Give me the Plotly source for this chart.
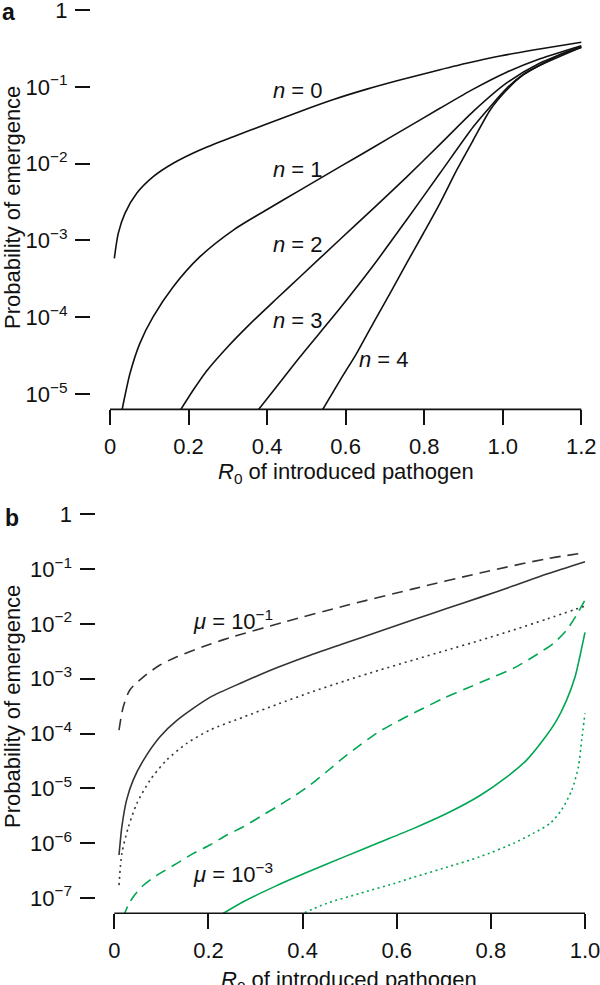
import plotly.graph_objects as go

# ---------------- data: panel a (number of mutations n) ----------------
a_n0_r0 = [0.011, 0.021, 0.038, 0.068, 0.110, 0.161, 0.229, 0.314, 0.399, 0.484, 0.569, 0.654, 0.738, 0.823, 0.908, 0.993, 1.078, 1.2]
a_n0_p = [5.85e-4, 1.236e-3, 2.254e-3, 4.10e-3, 6.75e-3, 1.009e-2, 1.503e-2, 2.239e-2, 3.273e-2, 4.786e-2, 6.839e-2, 9.33e-2, 0.1227, 0.1585, 0.2023, 0.2512, 0.3013, 0.380]

a_n1_r0 = [0.027, 0.051, 0.076, 0.110, 0.161, 0.229, 0.314, 0.399, 0.484, 0.586, 0.670, 0.755, 0.840, 0.925, 1.010, 1.095, 1.2]
a_n1_p = [5.01e-6, 1.862e-5, 4.571e-5, 1.016e-4, 2.495e-4, 6.138e-4, 1.365e-3, 2.512e-3, 4.519e-3, 9.12e-3, 1.622e-2, 2.917e-2, 5.248e-2, 9.333e-2, 0.1549, 0.2317, 0.3428]

a_n2_r0 = [0.168, 0.212, 0.246, 0.297, 0.356, 0.424, 0.484, 0.586, 0.670, 0.755, 0.840, 0.925, 1.010, 1.095, 1.2]
a_n2_p = [5.01e-6, 1.127e-5, 1.995e-5, 3.981e-5, 8.128e-5, 1.738e-4, 3.365e-4, 1.035e-3, 2.600e-3, 6.683e-3, 1.778e-2, 4.786e-2, 0.1122, 0.2042, 0.3327]

a_n3_r0 = [0.363, 0.424, 0.484, 0.586, 0.670, 0.755, 0.840, 0.925, 0.968, 1.010, 1.052, 1.095, 1.2]
a_n3_p = [5.01e-6, 1.245e-5, 3.062e-5, 1.318e-4, 4.677e-4, 1.845e-3, 7.482e-3, 3.020e-2, 5.508e-2, 9.55e-2, 0.1445, 0.1905, 0.3266]

a_n4_r0 = [0.530, 0.586, 0.628, 0.670, 0.713, 0.755, 0.798, 0.840, 0.883, 0.925, 0.968, 1.010, 1.052, 1.095, 1.146, 1.2]
a_n4_p = [5.01e-6, 1.52e-5, 3.39e-5, 8.33e-5, 2.05e-4, 5.03e-4, 1.24e-3, 3.04e-3, 8.26e-3, 2.03e-2, 4.99e-2, 9.08e-2, 0.1425, 0.192, 0.263, 0.326]

a_labels = ["0", "1", "2", "3", "4"]

# ---------------- data: panel b (mutation rate mu) ----------------
b_k_dash_r0 = [0.01, 0.019, 0.033, 0.062, 0.097, 0.133, 0.203, 0.253, 0.359, 0.494, 0.635, 0.777, 0.919, 1.0]
b_k_dash_p = [1.159e-4, 3.083e-4, 6.223e-4, 1.086e-3, 1.778e-3, 2.518e-3, 4.266e-3, 5.888e-3, 1.072e-2, 2.188e-2, 4.365e-2, 8.511e-2, 0.1549, 0.1995]

b_k_solid_r0 = [0.01, 0.016, 0.026, 0.040, 0.062, 0.097, 0.133, 0.203, 0.274, 0.345, 0.416, 0.494, 0.564, 0.635, 0.706, 0.777, 0.848, 0.919, 1.0]
b_k_solid_p = [6.067e-7, 1.991e-6, 6.109e-6, 1.416e-5, 3.281e-5, 8.75e-5, 1.738e-4, 4.571e-4, 8.71e-4, 1.585e-3, 2.692e-3, 4.571e-3, 7.328e-3, 1.189e-2, 1.905e-2, 3.055e-2, 4.955e-2, 8.128e-2, 0.1365]

b_k_dot_r0 = [0.01, 0.016, 0.030, 0.048, 0.076, 0.111, 0.154, 0.203, 0.274, 0.345, 0.416, 0.490, 0.564, 0.635, 0.706, 0.777, 0.848, 0.919, 1.0]
b_k_dot_p = [1.718e-7, 6.516e-7, 1.991e-6, 5.321e-6, 1.416e-5, 3.281e-5, 6.622e-5, 1.159e-4, 1.995e-4, 3.388e-4, 5.623e-4, 9.12e-4, 1.445e-3, 2.188e-3, 3.311e-3, 5.012e-3, 7.762e-3, 1.230e-2, 2.123e-2]

b_g_dash_r0 = [0.019, 0.030, 0.042, 0.058, 0.078, 0.097, 0.133, 0.168, 0.203, 0.239, 0.274, 0.310, 0.345, 0.380, 0.416, 0.451, 0.487, 0.522, 0.557, 0.600, 0.649, 0.699, 0.749, 0.798, 0.848, 0.890, 0.933, 0.961, 0.982, 1.0]
b_g_dash_p = [4.467e-8, 7.586e-8, 1.096e-7, 1.585e-7, 2.188e-7, 2.812e-7, 4.276e-7, 6.516e-7, 9.226e-7, 1.406e-6, 1.991e-6, 3.034e-6, 4.613e-6, 7.031e-6, 1.148e-5, 2.009e-5, 3.631e-5, 6.166e-5, 1.009e-4, 1.641e-4, 2.685e-4, 4.385e-4, 6.683e-4, 1.016e-3, 1.549e-3, 2.518e-3, 4.426e-3, 7.745e-3, 1.452e-2, 2.729e-2]

b_g_solid_r0 = [0.218, 0.274, 0.345, 0.416, 0.487, 0.564, 0.635, 0.706, 0.777, 0.834, 0.876, 0.911, 0.940, 0.961, 0.979, 0.989, 1.0]
b_g_solid_p = [4.467e-8, 8.531e-8, 1.679e-7, 3.09e-7, 5.559e-7, 1.035e-6, 1.841e-6, 3.467e-6, 7.413e-6, 1.622e-5, 3.281e-5, 7.603e-5, 1.762e-4, 4.083e-4, 1.086e-3, 2.518e-3, 6.998e-3]

b_g_dot_r0 = [0.383, 0.451, 0.522, 0.593, 0.635, 0.706, 0.777, 0.848, 0.890, 0.926, 0.950, 0.972, 0.986, 0.993, 1.0]
b_g_dot_p = [4.467e-8, 7.96e-8, 1.213e-7, 1.82e-7, 2.371e-7, 3.631e-7, 5.649e-7, 9.908e-7, 1.510e-6, 2.296e-6, 4.018e-6, 9.311e-6, 2.477e-5, 7.603e-5, 2.339e-4]

b_labels = ["\u22121", "\u22123"]

# ---------------- tick labels ----------------
a_xticks = [0, 0.2, 0.4, 0.6, 0.8, 1.0, 1.2]
a_xticktext = ["0", "0.2", "0.4", "0.6", "0.8", "1.0", "1.2"]
a_yticks = [1e-5, 1e-4, 1e-3, 1e-2, 1e-1, 1]
a_yticktext = ["10<sup>\u22125</sup>", "10<sup>\u22124</sup>", "10<sup>\u22123</sup>",
               "10<sup>\u22122</sup>", "10<sup>\u22121</sup>", "1"]
b_xticks = [0, 0.2, 0.4, 0.6, 0.8, 1.0]
b_xticktext = ["0", "0.2", "0.4", "0.6", "0.8", "1.0"]
b_yticks = [1e-7, 1e-6, 1e-5, 1e-4, 1e-3, 1e-2, 1e-1, 1]
b_yticktext = ["10<sup>\u22127</sup>", "10<sup>\u22126</sup>", "10<sup>\u22125</sup>", "10<sup>\u22124</sup>",
               "10<sup>\u22123</sup>", "10<sup>\u22122</sup>", "10<sup>\u22121</sup>", "1"]

# ---------------- styling ----------------
W, H = 600, 985
FONT = "Liberation Sans, Arial, Helvetica, sans-serif"
BLACK = "#111111"
DARK = "#333333"
GREEN = "#00a651"


def X(px):
    return px / W


def Y(py):
    return 1 - py / H


fig = go.Figure()

a_series = [(a_n0_r0, a_n0_p), (a_n1_r0, a_n1_p), (a_n2_r0, a_n2_p), (a_n3_r0, a_n3_p), (a_n4_r0, a_n4_p)]
for r, p in a_series:
    fig.add_trace(go.Scatter(x=r, y=p, mode="lines", xaxis="x", yaxis="y",
                             line=dict(color=BLACK, width=1.6, shape="spline", smoothing=0.7),
                             showlegend=False, hoverinfo="skip"))

b_series = [
    (b_k_dash_r0, b_k_dash_p, DARK, "11px,7px"),
    (b_k_solid_r0, b_k_solid_p, DARK, "solid"),
    (b_k_dot_r0, b_k_dot_p, DARK, "2px,4px"),
    (b_g_dash_r0, b_g_dash_p, GREEN, "11px,7px"),
    (b_g_solid_r0, b_g_solid_p, GREEN, "solid"),
    (b_g_dot_r0, b_g_dot_p, GREEN, "2px,3.5px"),
]
for r, p, c, d in b_series:
    fig.add_trace(go.Scatter(x=r, y=p, mode="lines", xaxis="x2", yaxis="y2",
                             line=dict(color=c, width=1.6, dash=d, shape="spline", smoothing=0.7),
                             showlegend=False, hoverinfo="skip"))

axis_common = dict(showgrid=False, zeroline=False, showline=False, ticks="outside",
                   ticklen=15, tickwidth=1.6, tickcolor=BLACK, ticklabeloverflow="allow",
                   tickfont=dict(family=FONT, size=22, color=BLACK), automargin=False)

fig.update_layout(
    width=W, height=H,
    margin=dict(l=0, r=0, t=0, b=0),
    paper_bgcolor="white", plot_bgcolor="white",
    xaxis=dict(domain=[X(91), 1], range=[-0.0484, 1.2476], anchor="y", ticklabelstandoff=2,
               tickvals=a_xticks, ticktext=a_xticktext, **axis_common),
    yaxis=dict(domain=[Y(409.4), 1], type="log", range=[-5.2, 0.13], anchor="x", ticklabelstandoff=3,
               tickvals=a_yticks, ticktext=a_yticktext, **axis_common),
    xaxis2=dict(domain=[X(95.5), 1], range=[-0.04, 1.0319], anchor="y2", ticklabelstandoff=2,
                tickvals=b_xticks, ticktext=b_xticktext, **axis_common),
    yaxis2=dict(domain=[Y(913.3), Y(499)], type="log", range=[-7.28, 0.28], anchor="x2", ticklabelstandoff=3,
                tickvals=b_yticks, ticktext=b_yticktext, **axis_common),
)

# detached axis lines (only spanning tick range)
line_style = dict(color=BLACK, width=1.6)
fig.add_shape(type="line", xref="x", yref="y domain", x0=0, x1=1.2, y0=0, y1=0, line=line_style)
fig.add_shape(type="line", xref="x domain", yref="y", x0=0, x1=0, y0=-5, y1=0, line=line_style)
fig.add_shape(type="line", xref="x2", yref="y2 domain", x0=0, x1=1.0, y0=0, y1=0, line=line_style)
fig.add_shape(type="line", xref="x2 domain", yref="y2", x0=0, x1=0, y0=-7, y1=0, line=line_style)

tf = dict(family=FONT, size=22, color=BLACK)
ann = []
# panel letters
ann.append(dict(text="<b>a</b>", x=X(0), y=Y(12), xanchor="left", yanchor="middle",
                font=dict(family=FONT, size=23, color=BLACK)))
ann.append(dict(text="<b>b</b>", x=X(3), y=Y(518), xanchor="left", yanchor="middle",
                font=dict(family=FONT, size=23, color=BLACK)))
# axis titles
for yc in (208, 707):
    ann.append(dict(text="Probability of emergence", x=X(12), y=Y(yc), textangle=-90,
                    xanchor="center", yanchor="middle", font=tf))
ann.append(dict(text="<i>R</i><sub>0</sub> of introduced pathogen", x=X(346), y=Y(473),
                xanchor="center", yanchor="middle", font=tf))
ann.append(dict(text="<i>R</i><sub>0</sub> of introduced pathogen", x=X(349), y=Y(981),
                xanchor="center", yanchor="middle", font=tf))
# curve labels panel a
for (xc, yc), lab in zip([(297.5, 90), (297.5, 170), (297.5, 244), (297.5, 320), (384, 359)], a_labels):
    ann.append(dict(text="<i>n</i> = " + lab, x=X(xc), y=Y(yc),
                    xanchor="center", yanchor="middle", font=tf))
# curve labels panel b
for yc, lab in zip((620, 873), b_labels):
    ann.append(dict(text="<i>\u03bc</i> = 10<sup>" + lab + "</sup>", x=X(233), y=Y(yc),
                    xanchor="center", yanchor="middle", font=tf))
for a in ann:
    a.update(xref="paper", yref="paper", showarrow=False)
fig.update_layout(annotations=ann)

fig.write_html("out.html", config={"displayModeBar": False},
               post_script="document.body.style.margin='0';document.body.style.overflow='hidden';")
